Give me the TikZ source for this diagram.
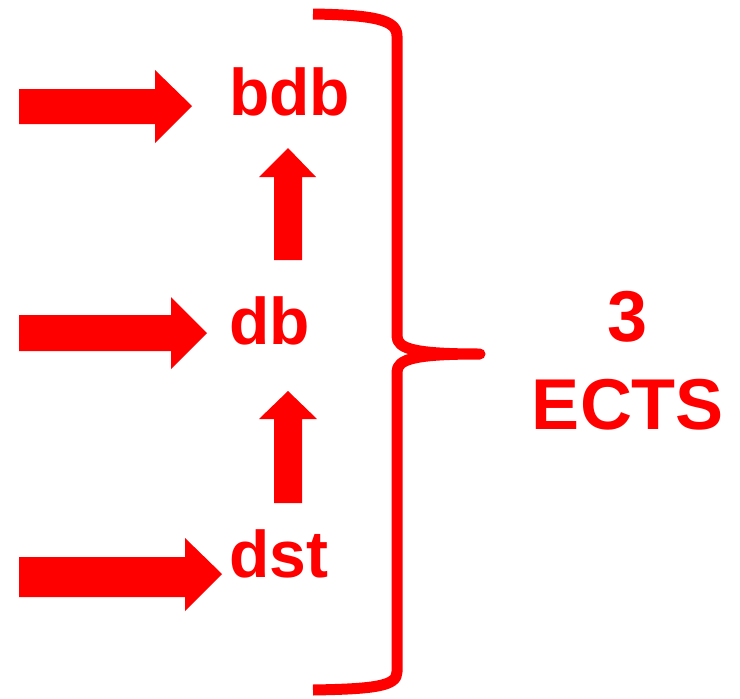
\documentclass[tikz,border=0pt]{standalone}
\usepackage{fontspec}
\setmainfont{Liberation Sans}
\definecolor{pptred}{RGB}{255,0,0}
\begin{document}
\begin{tikzpicture}[x=1pt,y=-1pt,
  blockarrow/.style={fill=pptred,draw=none},
  label/.style={text=pptred,font=\bfseries\fontsize{66}{66}\selectfont,inner sep=0pt,anchor=base west},
  credit/.style={text=pptred,font=\bfseries\fontsize{72}{72}\selectfont,inner sep=0pt,anchor=base},
  bracestyle/.style={draw=pptred,line width=11pt,line join=round,line cap=butt}]
\useasboundingbox (0,0) rectangle (740,699);
% labels
\node[label] (bdb) at (229,115) {bdb};
\node[label] (db) at (229,344) {db};
\node[label] (dst) at (229,577) {dst};
\node[credit] (three) at (628,341) {3};
\node[credit] (ects) at (628,429) {ECTS};
% horizontal block arrows
\fill[blockarrow] (19,89) -- (155,89) -- (155,70) -- (192,106) -- (155,143) -- (155,124) -- (19,124) -- cycle;
\fill[blockarrow] (19,315) -- (171,315) -- (171,297) -- (207,333) -- (171,369) -- (171,351) -- (19,351) -- cycle;
\fill[blockarrow] (19,557) -- (185,557) -- (185,538) -- (222,574) -- (185,611) -- (185,597) -- (19,597) -- cycle;
% vertical block arrows
\fill[blockarrow] (274,260) -- (274,177) -- (259,177) -- (288,148) -- (316,177) -- (302,177) -- (302,260) -- cycle;
\fill[blockarrow] (274,503) -- (274,419) -- (259,419) -- (288,391) -- (317,419) -- (302,419) -- (302,503) -- cycle;
% brace
\coordinate (btop) at (313,14);
\coordinate (btip) at (480,354);
\coordinate (bbot) at (313,690);
\draw[bracestyle] (btop) .. controls (375,15) and (397,20) .. (397,36)
  -- (397,336) .. controls (397,349) and (415,354) .. (btip)
  .. controls (415,354) and (397,359) .. (397,372)
  -- (397,672) .. controls (397,686) and (375,689) .. (bbot);
\end{tikzpicture}
\end{document}
